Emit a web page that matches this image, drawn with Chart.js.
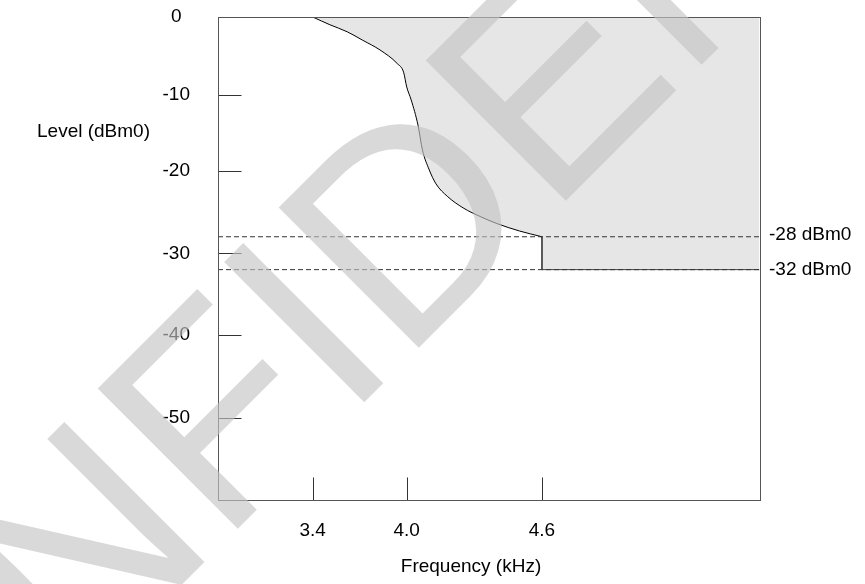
<!DOCTYPE html>
<html>
<head>
<meta charset="utf-8">
<script src="https://cdn.jsdelivr.net/npm/chart.js@4.4.1/dist/chart.umd.min.js"></script>
<style>
  html, body { margin: 0; padding: 0; background: #fff; }
  #wrap { width: 865px; height: 584px; }
</style>
</head>
<body>
<div id="wrap"><canvas id="maskChart" width="865" height="584"></canvas></div>
<script>
// Mask boundary: frequency (kHz) and level (dBm0)
const maskFreq  = [3.4, 3.51, 3.62, 3.72, 3.83, 3.94, 3.98, 4.0, 4.02, 4.05, 4.07, 4.10, 4.13, 4.18, 4.25, 4.33, 4.40, 4.50, 4.6, 4.6, 5.5];
const maskLevel = [0, -1.0, -1.9, -3.0, -4.25, -6.0, -7.1, -9.0, -10.7, -14.0, -17.3, -19.9, -21.6, -23.1, -24.5, -25.6, -26.4, -27.3, -28, -32, -32];

// Reference limits
const limitLevels = [-28, -32];
const limitLabels = ['-28 dBm0', '-32 dBm0'];

// Axes
const freqTicks  = [3.4, 4.0, 4.6];
const levelTicks = [0, -10, -20, -30, -40, -50];
const freqMin = 3.0, freqMax = 5.5;
const levelMin = -60, levelMax = 0;

const FONT = '"Liberation Sans", Arial, sans-serif';

// piecewise linear scale (the drawing is not to scale)
function knotDecimal(knots, v) {
    for (let i = 1; i < knots.length; i++) {
        const [v0, d0] = knots[i - 1], [v1, d1] = knots[i];
        if (v <= v1 || i === knots.length - 1) return d0 + (v - v0) / (v1 - v0) * (d1 - d0);
    }
}
function knotValue(knots, d) {
    for (let i = 1; i < knots.length; i++) {
        const [v0, d0] = knots[i - 1], [v1, d1] = knots[i];
        if (d <= d1 || i === knots.length - 1) return v0 + (d - d0) / (d1 - d0) * (v1 - v0);
    }
}
class KnotScale extends Chart.LinearScale {
    getPixelForValue(v) { return this.getPixelForDecimal(knotDecimal(this.options.knots, v)); }
    getValueForPixel(p) { return knotValue(this.options.knots, this.getDecimalForPixel(p)); }
}
KnotScale.id = 'knot';
KnotScale.defaults = {};
Chart.register(KnotScale);

const px = v => Math.round(v) + 0.5;

// frame, inner tick marks and free text
const framePlugin = {
    id: 'frame',
    afterDraw(chart) {
        const { ctx, chartArea: a, scales: { x, y } } = chart;
        ctx.save();
        ctx.lineWidth = 1;
        ctx.strokeStyle = '#333';
        ctx.beginPath();
        levelTicks.forEach(v => {
            if (v === levelMax) return;
            const yy = px(y.getPixelForValue(v));
            ctx.moveTo(px(a.left), yy);
            ctx.lineTo(px(a.left) + 23, yy);
        });
        freqTicks.forEach(v => {
            const xx = px(x.getPixelForValue(v));
            ctx.moveTo(xx, px(a.bottom));
            ctx.lineTo(xx, px(a.bottom) - 23);
        });
        ctx.stroke();

        ctx.strokeStyle = '#555';
        ctx.strokeRect(px(a.left), px(a.top), Math.round(a.right) - Math.round(a.left), Math.round(a.bottom) - Math.round(a.top));

        ctx.fillStyle = '#000';
        ctx.font = '19px ' + FONT;
        ctx.textBaseline = 'middle';
        ctx.textAlign = 'left';
        ctx.fillText('Level (dBm0)', 37, 132);
        limitLevels.forEach((v, i) => {
            ctx.fillText(limitLabels[i], 769, y.getPixelForValue(v) + (i === 0 ? -2 : 0));
        });
        ctx.textAlign = 'center';
        ctx.fillText('Frequency (kHz)', 471, 567);
        ctx.restore();
    }
};

// diagonal watermark over everything
const watermarkPlugin = {
    id: 'watermark',
    afterDraw(chart) {
        const ctx = chart.ctx;
        const size = 288;
        ctx.save();
        ctx.font = size + 'px ' + FONT;
        const lead = ctx.measureText('CONF').width + 0.14 * size;
        ctx.translate(374, 392.5);
        ctx.rotate(-Math.PI / 4);
        ctx.fillStyle = 'rgba(196, 196, 196, 0.64)';
        ctx.textBaseline = 'alphabetic';
        ctx.fillText('CONFIDENTIAL', -lead, 0);
        ctx.restore();
    }
};

const limitSets = limitLevels.map(v => ({
    data: [{ x: freqMin, y: v }, { x: freqMax, y: v }],
    borderColor: '#333',
    borderWidth: 1,
    borderDash: [5, 3],
    pointRadius: 0,
    fill: false,
    order: 1
}));

// smooth roll-off part, then the step down to the floor
const points = maskFreq.map((f, i) => ({ x: f, y: maskLevel[i] }));
const knee = maskFreq.length - 3;

const curveSet = {
    data: points.slice(0, knee + 1),
    borderColor: '#000',
    borderWidth: 1,
    backgroundColor: '#e6e6e6',
    fill: 'end',
    pointRadius: 0,
    cubicInterpolationMode: 'monotone',
    order: 2
};

const stepSet = {
    data: points.slice(knee),
    borderColor: '#444',
    borderWidth: 1,
    backgroundColor: '#e6e6e6',
    fill: 'end',
    pointRadius: 0,
    tension: 0,
    order: 2
};

new Chart(document.getElementById('maskChart'), {
    type: 'line',
    data: { datasets: [...limitSets, curveSet, stepSet] },
    options: {
        responsive: false,
        animation: false,
        events: [],
        layout: { padding: { top: 17, right: 105.5, left: 0, bottom: 0 } },
        plugins: { legend: { display: false }, tooltip: { enabled: false } },
        scales: {
            x: {
                type: 'knot',
                min: freqMin,
                max: freqMax,
                knots: [[3.0, 0], [3.4, 0.1749], [4.0, 0.3485], [4.6, 0.5983], [5.5, 1]],
                afterBuildTicks: s => { s.ticks = freqTicks.map(v => ({ value: v })); },
                afterFit: s => { s.height = 84; s.paddingLeft = 0; s.paddingRight = 0; },
                grid: { display: false, drawTicks: false },
                border: { display: false },
                ticks: {
                    padding: 19,
                    color: '#000',
                    font: { family: FONT, size: 19 },
                    maxRotation: 0,
                    autoSkip: false,
                    callback: v => Number(v).toFixed(1)
                }
            },
            y: {
                type: 'knot',
                min: levelMin,
                max: levelMax,
                knots: [[-60, 0], [-50, 0.1698], [-40, 0.3416], [-30, 0.5108], [-20, 0.6818], [-10, 0.8391], [0, 1]],
                afterBuildTicks: s => { s.ticks = levelTicks.map(v => ({ value: v })); },
                afterFit: s => { s.width = 218; s.paddingTop = 0; s.paddingBottom = 0; },
                grid: { display: false, drawTicks: false },
                border: { display: false },
                ticks: {
                    padding: 28,
                    crossAlign: 'center',
                    color: '#000',
                    font: { family: FONT, size: 19 },
                    autoSkip: false,
                    callback: v => String(v)
                }
            }
        }
    },
    plugins: [framePlugin, watermarkPlugin]
});
</script>
</body>
</html>
